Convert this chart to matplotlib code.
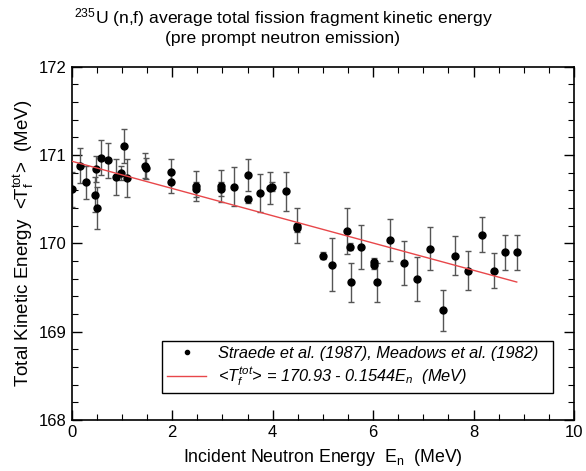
import matplotlib.pyplot as plt
import numpy as np

plt.rcParams['font.family'] = ['Liberation Sans', 'DejaVu Sans']
plt.rcParams['mathtext.fontset'] = 'custom'
plt.rcParams['mathtext.rm'] = 'Liberation Sans'
plt.rcParams['mathtext.it'] = 'Liberation Sans:italic'

# Measured average total kinetic energy vs incident neutron energy
energy = [0.0, 0.17, 0.29, 0.46, 0.50, 0.48, 0.58, 0.72, 0.88, 0.98, 1.04, 1.10,
          1.45, 1.48, 1.98, 1.98, 2.48, 2.48, 2.98, 2.98, 3.23, 3.50, 3.50, 3.75,
          3.95, 3.98, 4.26, 4.49, 4.49, 5.00, 5.19, 5.48, 5.54, 5.56, 5.76, 6.01,
          6.01, 6.08, 6.34, 6.61, 6.87, 7.14, 7.39, 7.64, 7.89, 8.17, 8.40, 8.62,
          8.86]
tke = [170.61, 170.88, 170.69, 170.55, 170.40, 170.84, 170.97, 170.94, 170.75, 170.80,
       171.10, 170.74, 170.88, 170.85, 170.81, 170.69, 170.65, 170.61, 170.65, 170.62,
       170.64, 170.77, 170.50, 170.57, 170.63, 170.64, 170.59, 170.20, 170.17, 169.86,
       169.76, 170.14, 169.96, 169.56, 169.96, 169.79, 169.75, 169.56, 170.04, 169.78,
       169.60, 169.94, 169.24, 169.86, 169.69, 170.10, 169.69, 169.90, 169.90]
tke_err = [0.20, 0.20, 0.19, 0.20, 0.24, 0.15, 0.20, 0.20, 0.20, 0.08,
           0.19, 0.21, 0.14, 0.12, 0.14, 0.12, 0.17, 0.08, 0.18, 0.08,
           0.22, 0.18, 0.04, 0.22, 0.18, 0.05, 0.22, 0.20, 0.04, 0.04,
           0.30, 0.26, 0.04, 0.22, 0.25, 0.04, 0.04, 0.22, 0.24, 0.25,
           0.25, 0.24, 0.23, 0.22, 0.22, 0.20, 0.20, 0.20, 0.20]

# Linear fit  <T> = a - b*En
fit_a = 170.93
fit_b = 0.1544
fit_x = np.array([0.0, 8.86])

fig = plt.figure(figsize=(5.86, 4.71), dpi=100)
ax = fig.add_axes([0.1224, 0.1083, 0.8571, 0.7501])

ax.errorbar(energy, tke, yerr=tke_err, fmt='none', ecolor='#555555',
            elinewidth=1.0, capsize=2.5, capthick=1.0, zorder=2)
ax.plot(energy, tke, 'o', color='black', markersize=5, zorder=3,
        label='Straede et al. (1987), Meadows et al. (1982)')
ax.plot(fit_x, fit_a - fit_b * fit_x, color='#e8474a', lw=1.0, zorder=4,
        label=r'<$T_f^{tot}$> = 170.93 - 0.1544$E_n$  (MeV)')

ax.set_xlim(0, 10)
ax.set_ylim(168, 172)
ax.set_xticks([0, 2, 4, 6, 8, 10])
ax.set_xticks(np.arange(0, 10.01, 0.5), minor=True)
ax.set_yticks([168, 169, 170, 171, 172])
ax.set_yticks(np.arange(168, 172.01, 0.2), minor=True)
ax.tick_params(which='both', direction='in', top=True, right=True, labelsize=12)
ax.tick_params(which='major', length=7, width=1.0)
ax.tick_params(which='minor', length=4, width=0.8)
for s in ax.spines.values():
    s.set_linewidth(1.2)

ax.set_xlabel(r'Incident Neutron Energy  E$_\mathrm{n}$  (MeV)', fontsize=12.8, labelpad=5)
ax.set_ylabel(r'Total Kinetic Energy  <T$_\mathrm{f}^\mathrm{tot}$>  (MeV)', fontsize=13.5, labelpad=2)

fig.text(0.483, 0.963, r'$^{235}$U (n,f) average total fission fragment kinetic energy',
         ha='center', va='center', fontsize=12.6)
fig.text(0.483, 0.919, '(pre prompt neutron emission)', ha='center', va='center', fontsize=12.6)

leg = ax.legend(loc='lower left', bbox_to_anchor=(0.18, 0.076, 0.778, 0.15), mode='expand',
                borderaxespad=0, fancybox=False, edgecolor='black', framealpha=1,
                markerscale=0.6, prop={'style': 'italic', 'size': 11.8}, borderpad=0.3,
                handlelength=2.4, handletextpad=0.7, labelspacing=0.3)
leg.get_frame().set_linewidth(1.0)

fig.savefig('out.png', dpi=100)
